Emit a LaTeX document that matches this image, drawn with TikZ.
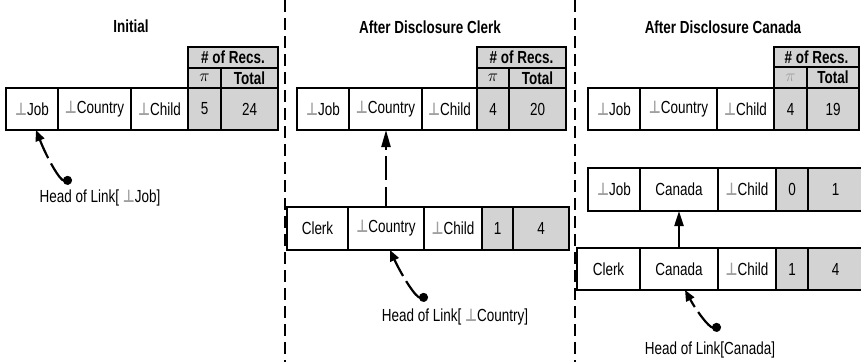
\documentclass[tikz,border=0pt]{standalone}
\usepackage{fontspec}
\setmainfont{Liberation Sans}[FakeStretch=0.77]
\newfontfamily\perpfont{DejaVu Sans Bold}[FakeStretch=0.75]
\usetikzlibrary{arrows.meta}
\definecolor{cellgray}{RGB}{211,211,211}
\definecolor{perpgray}{RGB}{160,160,160}
\newcommand\perpsym{{\perpfont\color{perpgray}⊥}}
\newcommand\mkcell[7]{\node[#6, minimum width={(#3-#2)*1pt}, minimum height={(#5-#4)*1pt}] (#1) at ({(#2+#3)/2},{(#4+#5)/2}) {#7};}
\begin{document}
\begin{tikzpicture}[x=1pt,y=-1pt,
  every node/.style={font=\fontsize{17.5}{20}\selectfont},
  wcell/.style={draw, line width=1.6pt, fill=white, inner sep=0pt, outer sep=0pt},
  gcell/.style={wcell, fill=cellgray},
  hcell/.style={gcell, font=\fontsize{17.5}{20}\selectfont\bfseries},
  ttl/.style={font=\fontsize{17.5}{20}\selectfont\bfseries},
  sep/.style={line width=2.4pt, dash pattern=on 12pt off 6pt},
  link/.style={line width=2.2pt, dash pattern=on 22pt off 6pt on 90pt off 1pt,
    {Circle[length=9pt]}-{Triangle[length=11pt,width=9pt]}},
  up/.style={line width=2.2pt, -{Triangle[length=15pt,width=9pt]}}]
\useasboundingbox (0,0) rectangle (861,362);
\clip (0,0) rectangle (861,362);

% separators
\draw[sep] (285,0) -- (285,362);
\draw[sep] (575,0) -- (575,362);

% ---------- Panel 1: Initial ----------
\node[ttl] (t1) at (131,26) {Initial};
\mkcell{h1}{188}{278}{47}{68}{hcell}{\# of Recs.}
\mkcell{hp1}{188}{221}{68}{88}{gcell}{$\pi$}
\mkcell{ht1}{221}{278}{68}{88}{hcell}{Total}
\mkcell{a1}{6}{58}{88}{130}{wcell}{\perpsym Job}
\mkcell{a2}{58}{131}{88}{130}{wcell}{\perpsym Country}
\mkcell{a3}{131}{188}{88}{130}{wcell}{\perpsym Child}
\mkcell{a4}{188}{221}{88}{130}{gcell}{5}
\mkcell{a5}{221}{278}{88}{130}{gcell}{24}
\coordinate (d1) at (72,180);
\draw[link] (d1) .. controls (60,181) and (47,158) .. ([xshift=4pt]a1.south);
\node (l1) at (100,198) {Head of Link[ \perpsym Job]};

% ---------- Panel 2: After Disclosure Clerk ----------
\node[ttl] (t2) at (430,27) {After Disclosure Clerk};
\mkcell{h2}{477}{566}{47}{68}{hcell}{\# of Recs.}
\mkcell{hp2}{477}{509}{68}{88}{gcell}{$\pi$}
\mkcell{ht2}{509}{566}{68}{88}{hcell}{Total}
\mkcell{b1}{297}{349}{88}{130}{wcell}{\perpsym Job}
\mkcell{b2}{349}{422}{88}{130}{wcell}{\perpsym Country}
\mkcell{b3}{422}{477}{88}{130}{wcell}{\perpsym Child}
\mkcell{b4}{477}{509}{88}{130}{gcell}{4}
\mkcell{b5}{509}{566}{88}{130}{gcell}{20}
\mkcell{c1}{287}{348}{207}{250}{wcell}{Clerk}
\mkcell{c2}{348}{424}{207}{250}{wcell}{\perpsym Country}
\mkcell{c3}{424}{482}{207}{250}{wcell}{\perpsym Child}
\mkcell{c4}{482}{513}{207}{250}{gcell}{1}
\mkcell{c5}{513}{569}{207}{250}{gcell}{4}
\draw[line width=2.2pt, dash pattern=on 20pt off 7pt on 24pt off 6pt, -{Triangle[length=17pt,width=9pt]}]
  (c2.north) -- (c2.north |- b2.south);
\coordinate (d2) at (428,297);
\draw[link] (d2) .. controls (416,298) and (402,276) .. ([xshift=4pt]c2.south);
\node (l2) at (455,317) {Head of Link[ \perpsym Country]};

% ---------- Panel 3: After Disclosure Canada ----------
\node[ttl] (t3) at (723,27) {After Disclosure Canada};
\mkcell{h3}{774}{859}{47}{67}{hcell}{\# of Recs.}
\mkcell{hp3}{774}{807}{67}{88}{gcell}{\color{perpgray}$\pi$}
\mkcell{ht3}{807}{859}{67}{88}{hcell}{Total}
\mkcell{e1}{588}{640}{88}{130}{wcell}{\perpsym Job}
\mkcell{e2}{640}{717}{88}{130}{wcell}{\perpsym Country}
\mkcell{e3}{717}{774}{88}{130}{wcell}{\perpsym Child}
\mkcell{e4}{774}{807}{88}{130}{gcell}{4}
\mkcell{e5}{807}{859}{88}{130}{gcell}{19}
\mkcell{f1}{588}{640}{168}{211}{wcell}{\perpsym Job}
\mkcell{f2}{640}{718}{168}{211}{wcell}{Canada}
\mkcell{f3}{718}{776}{168}{211}{wcell}{\perpsym Child}
\mkcell{f4}{776}{808}{168}{211}{gcell}{0}
\mkcell{f5}{808}{863}{168}{211}{gcell}{1}
\mkcell{g1}{577}{640}{248}{290}{wcell}{Clerk}
\mkcell{g2}{640}{718}{248}{290}{wcell}{Canada}
\mkcell{g3}{718}{776}{248}{290}{wcell}{\perpsym Child}
\mkcell{g4}{776}{808}{248}{290}{gcell}{1}
\mkcell{g5}{808}{863}{248}{290}{gcell}{4}
\draw[up] (g2.north) -- (f2.south);
\coordinate (d3) at (721,327);
\draw[link] (d3) .. controls (709,328) and (696,310) .. ([xshift=6pt]g2.south);
\node (l3) at (710,350) {Head of Link[Canada]};
\end{tikzpicture}
\end{document}
